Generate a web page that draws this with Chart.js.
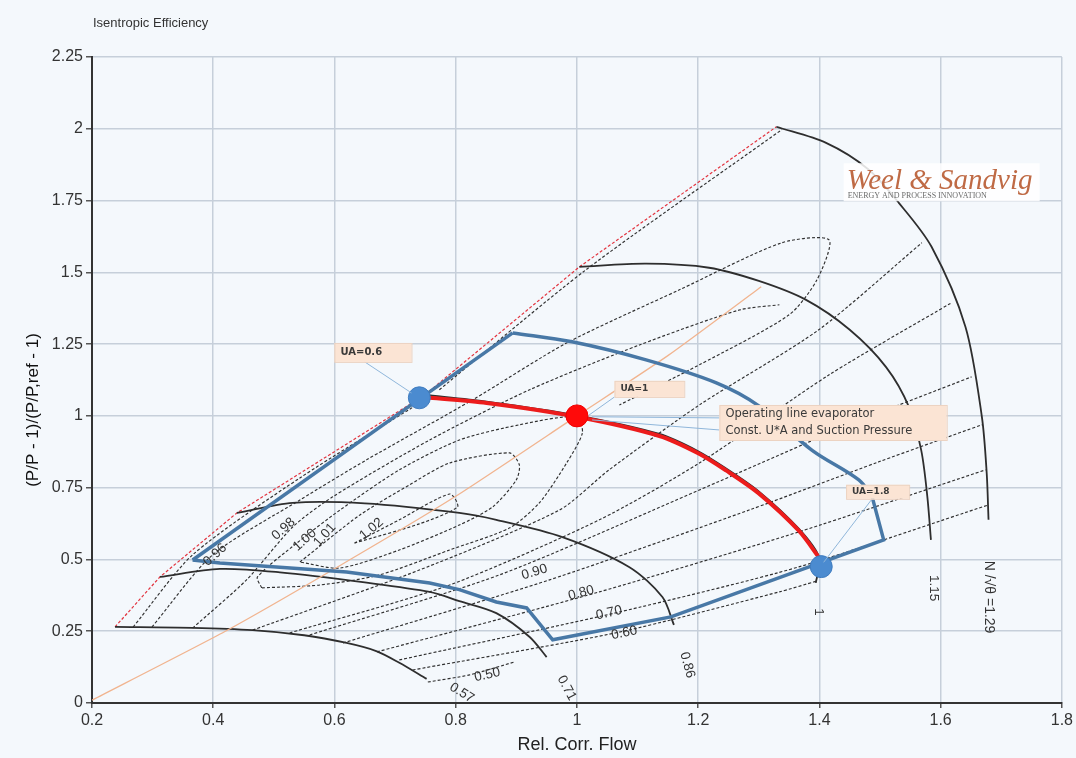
<!DOCTYPE html>
<html>
<head>
<meta charset="utf-8">
<title>Isentropic Efficiency</title>
<script src="https://cdn.jsdelivr.net/npm/chart.js@4.4.1/dist/chart.umd.min.js"></script>
<style>
  html, body { margin: 0; padding: 0; background: #f4f8fc; }
  #wrap { width: 1076px; height: 758px; }
</style>
</head>
<body>
<div id="wrap"><canvas id="map" width="1076" height="758"></canvas></div>
<script>
// axis ticks
const xTicks = [0.2, 0.4, 0.6, 0.8, 1, 1.2, 1.4, 1.6, 1.8];
const yTicks = [0, 0.25, 0.5, 0.75, 1, 1.25, 1.5, 1.75, 2, 2.25];

// constant speed lines N/sqrt(theta), [flow, pressure ratio]
const speed057 = [[0.238,0.265],[0.366,0.262],[0.465,0.254],[0.55,0.236],[0.62,0.209],[0.67,0.18],[0.707,0.14],[0.752,0.084]];
const speed071 = [[0.312,0.439],[0.411,0.467],[0.51,0.455],[0.65,0.42],[0.757,0.387],[0.806,0.355],[0.867,0.313],[0.922,0.23],[0.95,0.16]];
const speed086 = [[0.439,0.662],[0.531,0.697],[0.65,0.695],[0.806,0.662],[0.867,0.638],[0.976,0.578],[1.086,0.474],[1.141,0.369],[1.16,0.272]];
const speed100 = [[0.749,1.073],[0.851,1.05],[1.0,1.002],[1.136,0.937],[1.2,0.877],[1.246,0.817],[1.3,0.737],[1.366,0.607],[1.4,0.505],[1.394,0.418]];
const speed115 = [[1.004,1.519],[1.114,1.53],[1.218,1.516],[1.3,1.47],[1.378,1.404],[1.45,1.3],[1.51,1.17],[1.548,1.03],[1.568,0.88],[1.578,0.72],[1.584,0.568]];
const speed129 = [[1.329,2.007],[1.411,1.951],[1.48,1.86],[1.531,1.742],[1.585,1.589],[1.641,1.31],[1.668,0.997],[1.676,0.8],[1.679,0.638]];

// surge line through the left ends of the speed lines
const surgeLine = [[0.238,0.265],[0.312,0.439],[0.439,0.662],[0.749,1.073],[1.004,1.519],[1.329,2.007]];

// relative efficiency contours
const effSurge = [[0.773,1.091],[1.015,1.509],[1.338,1.997]];
const effEdge = [[0.268,0.265],[0.366,0.516],[0.543,0.784],[0.749,1.056]];
const eff096 = [[0.299,0.265],[0.399,0.516],[0.543,0.707],[0.653,0.847],[0.828,1.056],[0.983,1.254],[1.169,1.439],[1.338,1.603],[1.416,1.613],[1.396,1.474],[1.35,1.352],[1.202,1.178],[1.07,1.038]];
const eff098 = [[0.366,0.261],[0.455,0.429],[0.531,0.613],[0.597,0.718],[0.757,0.916],[0.922,1.091],[1.103,1.247],[1.268,1.369],[1.334,1.387]];
const eff100 = [[0.48,0.401],[0.473,0.439],[0.538,0.557],[0.609,0.672],[0.707,0.812],[0.806,0.916],[0.905,0.969],[0.999,0.997],[1.009,0.941],[0.983,0.836],[0.938,0.697],[0.889,0.61],[0.79,0.533],[0.674,0.446],[0.576,0.411],[0.48,0.401]];
const eff101 = [[0.543,0.491],[0.642,0.655],[0.724,0.76],[0.79,0.836],[0.889,0.871],[0.905,0.829],[0.9,0.777],[0.861,0.683],[0.806,0.62],[0.707,0.533],[0.609,0.47],[0.543,0.491]];
const eff102 = [[0.633,0.557],[0.707,0.638],[0.79,0.728],[0.803,0.683],[0.74,0.624],[0.633,0.557]];
const effUpperA = [[0.465,0.254],[0.74,0.463],[0.971,0.672],[1.053,0.812],[1.202,1.038],[1.399,1.3],[1.569,1.603]];
const effUpperB = [[0.526,0.244],[0.79,0.411],[1.037,0.638],[1.202,0.836],[1.416,1.143],[1.618,1.394]];
const effUpperC = [[0.559,0.237],[0.872,0.446],[1.202,0.742],[1.449,0.969],[1.651,1.136]];
const eff090 = [[0.614,0.209],[0.955,0.429],[1.284,0.672],[1.498,0.84],[1.668,0.969]];
const eff080 = [[0.67,0.178],[1.037,0.387],[1.366,0.596],[1.674,0.812]];
const eff070 = [[0.707,0.15],[1.07,0.317],[1.366,0.474],[1.679,0.69]];
const eff060 = [[0.729,0.115],[1.07,0.247],[1.334,0.387],[1.396,0.425]];
const eff050 = [[0.754,0.073],[0.823,0.098],[0.897,0.143]];

// throttle line, evaporator operating line, UA envelope
const throttleLine = [[0.2,0.01],[0.42,0.25],[0.61,0.48],[0.8,0.72],[1.0,1.0],[1.15,1.21],[1.304,1.45]];
const operatingLine = [[0.757,1.063],[0.851,1.045],[1.0,0.997],[1.136,0.93],[1.2,0.87],[1.246,0.81],[1.3,0.73],[1.366,0.6],[1.4,0.505]];
const envelopeSide = [[0.366,0.498],[0.894,1.289]];
const envelopeArc = [[0.894,1.289],[0.992,1.258],[1.114,1.195],[1.23,1.115],[1.3,1.035],[1.388,0.88],[1.465,0.777],[1.487,0.718]];
const envelopeLow = [[1.487,0.718],[1.506,0.568],[1.155,0.3],[0.96,0.22],[0.917,0.331],[0.867,0.352],[0.806,0.395],[0.757,0.418],[0.62,0.456],[0.411,0.488],[0.366,0.498]];
const uaMarkers = [[0.74,1.063],[1.403,0.475]];
const designPoint = [[1.0,1.0]];

// text along the curves: [text, anchor, rotation in degrees]
const curveLabels = [
  ['0.57', [0.81,0.035], 32], ['0.71', [0.983,0.052], 62], ['0.86', [1.182,0.132], 75],
  ['1', [1.399,0.317], 90], ['1.15', [1.589,0.40], 90], ['N /\u221A\u03B8 =1.29', [1.679,0.369], 90],
  ['0.96', [0.403,0.516], -42], ['0.98', [0.516,0.606], -42], ['1.00', [0.551,0.568], -42],
  ['1.01', [0.584,0.585], -48], ['1.02', [0.661,0.606], -40],
  ['0.90', [0.93,0.456], -17], ['0.80', [1.007,0.383], -15], ['0.70', [1.053,0.314], -13],
  ['0.60', [1.078,0.244], -12], ['0.50', [0.852,0.098], -12]
];

const callouts = [
  { lines: ['UA=0.6'], box: [[0.6,1.254],[0.727,1.188]], font: 'bold 10px "DejaVu Sans"',
    leaders: [[[0.65,1.188],[0.727,1.08]]] },
  { lines: ['UA=1'], box: [[1.062,1.122],[1.177,1.066]], font: 'bold 9px "DejaVu Sans"',
    leaders: [[[1.062,1.066],[1.02,1.003]]] },
  { lines: ['Operating line evaporator', 'Const. U*A and Suction Pressure'], box: [[1.235,1.038],[1.61,0.916]],
    font: '11.5px "DejaVu Sans"', leaders: [[[1.235,0.993],[1.025,0.997]], [[1.235,0.951],[1.025,0.986]]] },
  { lines: ['UA=1.8'], box: [[1.444,0.76],[1.548,0.711]], font: 'bold 9px "DejaVu Sans"',
    leaders: [[[1.487,0.711],[1.407,0.49]]] }
];

const pts = (arr) => arr.map(([x, y]) => ({ x, y }));

function curve(data, color, width, extra) {
  return Object.assign({
    data: pts(data), showLine: true, borderColor: color, borderWidth: width,
    pointRadius: 0, pointHoverRadius: 0, tension: 0.3, fill: false
  }, extra || {});
}
const contour = (data) => curve(data, '#2f2f2f', 1.15, { borderDash: [3, 2], order: 10, tension: 0.25 });
const speed = (data) => curve(data, '#2e2e2e', 1.8, { order: 8 });

const datasets = [
  ...[effSurge, effEdge, eff096, eff098, eff100, eff101, eff102, effUpperA, effUpperB, effUpperC,
      eff090, eff080, eff070, eff060, eff050].map(contour),
  curve(surgeLine, '#e2343f', 1.2, { borderDash: [3, 2], tension: 0, order: 9 }),
  ...[speed057, speed071, speed086, speed100, speed115, speed129].map(speed),
  curve(throttleLine, '#f1b48f', 1.3, { tension: 0.2, order: 7 }),
  curve(envelopeSide, '#4878a6', 3.5, { tension: 0, order: 5 }),
  curve(envelopeArc, '#4878a6', 3.5, { tension: 0.35, order: 5 }),
  curve(envelopeLow, '#4878a6', 3.5, { tension: 0, order: 5 }),
  curve(operatingLine, '#ec1c1c', 4, { order: 3 }),
  { data: pts(uaMarkers), showLine: false, pointRadius: 11, pointBackgroundColor: '#4b8bd0',
    pointBorderColor: '#3f7cbf', pointBorderWidth: 1, order: 1 },
  { data: pts(designPoint), showLine: false, pointRadius: 11, pointBackgroundColor: '#ff0a0a',
    pointBorderColor: '#f00000', pointBorderWidth: 1, order: 1 }
];

const mapText = {
  id: 'mapText',
  afterDatasetsDraw(chart) {
    const { ctx, chartArea: area, scales } = chart;
    const px = ([vx, vy]) => [scales.x.getPixelForValue(vx), scales.y.getPixelForValue(vy)];

    ctx.save();
    ctx.beginPath();
    ctx.rect(area.left, area.top, area.right - area.left, area.bottom - area.top);
    ctx.clip();

    // curve labels
    ctx.fillStyle = '#333';
    ctx.textAlign = 'center';
    ctx.textBaseline = 'middle';
    curveLabels.forEach(([text, at, rot]) => {
      const [lx, ly] = px(at);
      ctx.save();
      ctx.translate(lx, ly);
      ctx.rotate(rot * Math.PI / 180);
      ctx.font = text.length > 5 ? '14px "Liberation Sans", Arial' : '13.5px "Liberation Sans", Arial';
      ctx.fillText(text, 0, 0);
      ctx.restore();
    });

    // logo
    const [gx, gy] = px([1.44, 1.88]);
    ctx.fillStyle = 'rgba(255,255,255,0.85)';
    ctx.fillRect(gx, gy, 196, 38);
    ctx.textAlign = 'left';
    ctx.textBaseline = 'alphabetic';
    ctx.fillStyle = '#bf6a45';
    ctx.font = 'italic 29px "Liberation Serif", serif';
    ctx.fillText('Weel & Sandvig', gx + 3, gy + 26);
    ctx.fillStyle = '#6b6b6b';
    ctx.font = '8px "Liberation Serif", serif';
    ctx.fillText('ENERGY AND PROCESS INNOVATION', gx + 4, gy + 35, 176);

    // callouts with leader lines
    callouts.forEach((c) => {
      ctx.strokeStyle = '#8fb6da';
      ctx.lineWidth = 1;
      c.leaders.forEach(([a, b]) => {
        const [ax, ay] = px(a), [bx, by] = px(b);
        ctx.beginPath(); ctx.moveTo(ax, ay); ctx.lineTo(bx, by); ctx.stroke();
      });
      const [x0, y0] = px(c.box[0]), [x1, y1] = px(c.box[1]);
      ctx.fillStyle = '#fbe4d4';
      ctx.fillRect(x0, y0, x1 - x0, y1 - y0);
      ctx.strokeStyle = '#ecd3c2';
      ctx.strokeRect(x0 + 0.5, y0 + 0.5, x1 - x0, y1 - y0);
      ctx.fillStyle = '#3a3a3a';
      ctx.font = c.font;
      ctx.textBaseline = 'middle';
      const step = (y1 - y0) / c.lines.length;
      c.lines.forEach((t, i) => ctx.fillText(t, x0 + 6, y0 + step * (i + 0.5)));
    });
    ctx.restore();

    // titles
    ctx.save();
    ctx.fillStyle = '#333';
    ctx.font = '13px "Liberation Sans", Arial';
    ctx.textAlign = 'left';
    ctx.textBaseline = 'alphabetic';
    ctx.fillText('Isentropic Efficiency', 93, 27);
    ctx.fillStyle = '#222';
    ctx.font = '18px "Liberation Sans", Arial';
    ctx.textAlign = 'center';
    ctx.textBaseline = 'middle';
    ctx.fillText('Rel. Corr. Flow', (area.left + area.right) / 2, 745);
    ctx.translate(33, 410);
    ctx.rotate(-Math.PI / 2);
    ctx.fillStyle = '#111';
    ctx.font = '17px "Liberation Sans", Arial';
    ctx.fillText('(P/P - 1)/(P/P,ref - 1)', 0, 0);
    ctx.restore();
  }
};

Chart.defaults.font.family = '"Liberation Sans", Arial, sans-serif';

new Chart(document.getElementById('map'), {
  type: 'scatter',
  data: { datasets },
  plugins: [mapText],
  options: {
    responsive: false,
    animation: false,
    layout: { padding: { top: 57, right: 12, left: 0, bottom: 0 } },
    plugins: { legend: { display: false }, tooltip: { enabled: false } },
    scales: {
      x: {
        type: 'linear', min: 0.2, max: 1.8,
        afterBuildTicks: (axis) => { axis.ticks = xTicks.map((v) => ({ value: v })); },
        afterFit: (axis) => { axis.height = 55; },
        ticks: { color: '#333', font: { size: 16 }, padding: 3, callback: (v) => String(v), maxRotation: 0 },
        grid: { color: '#c6cfda', lineWidth: 1.5, tickLength: 5, tickColor: '#555' },
        border: { color: '#333', width: 2 }
      },
      y: {
        type: 'linear', min: 0, max: 2.25,
        afterBuildTicks: (axis) => { axis.ticks = yTicks.map((v) => ({ value: v })); },
        afterFit: (axis) => { axis.width = 92; },
        ticks: { color: '#333', font: { size: 16 }, padding: 3, callback: (v) => String(v) },
        grid: { color: '#c6cfda', lineWidth: 1.5, tickLength: 6, tickColor: '#555' },
        border: { color: '#333', width: 2 }
      }
    }
  }
});
</script>
</body>
</html>
